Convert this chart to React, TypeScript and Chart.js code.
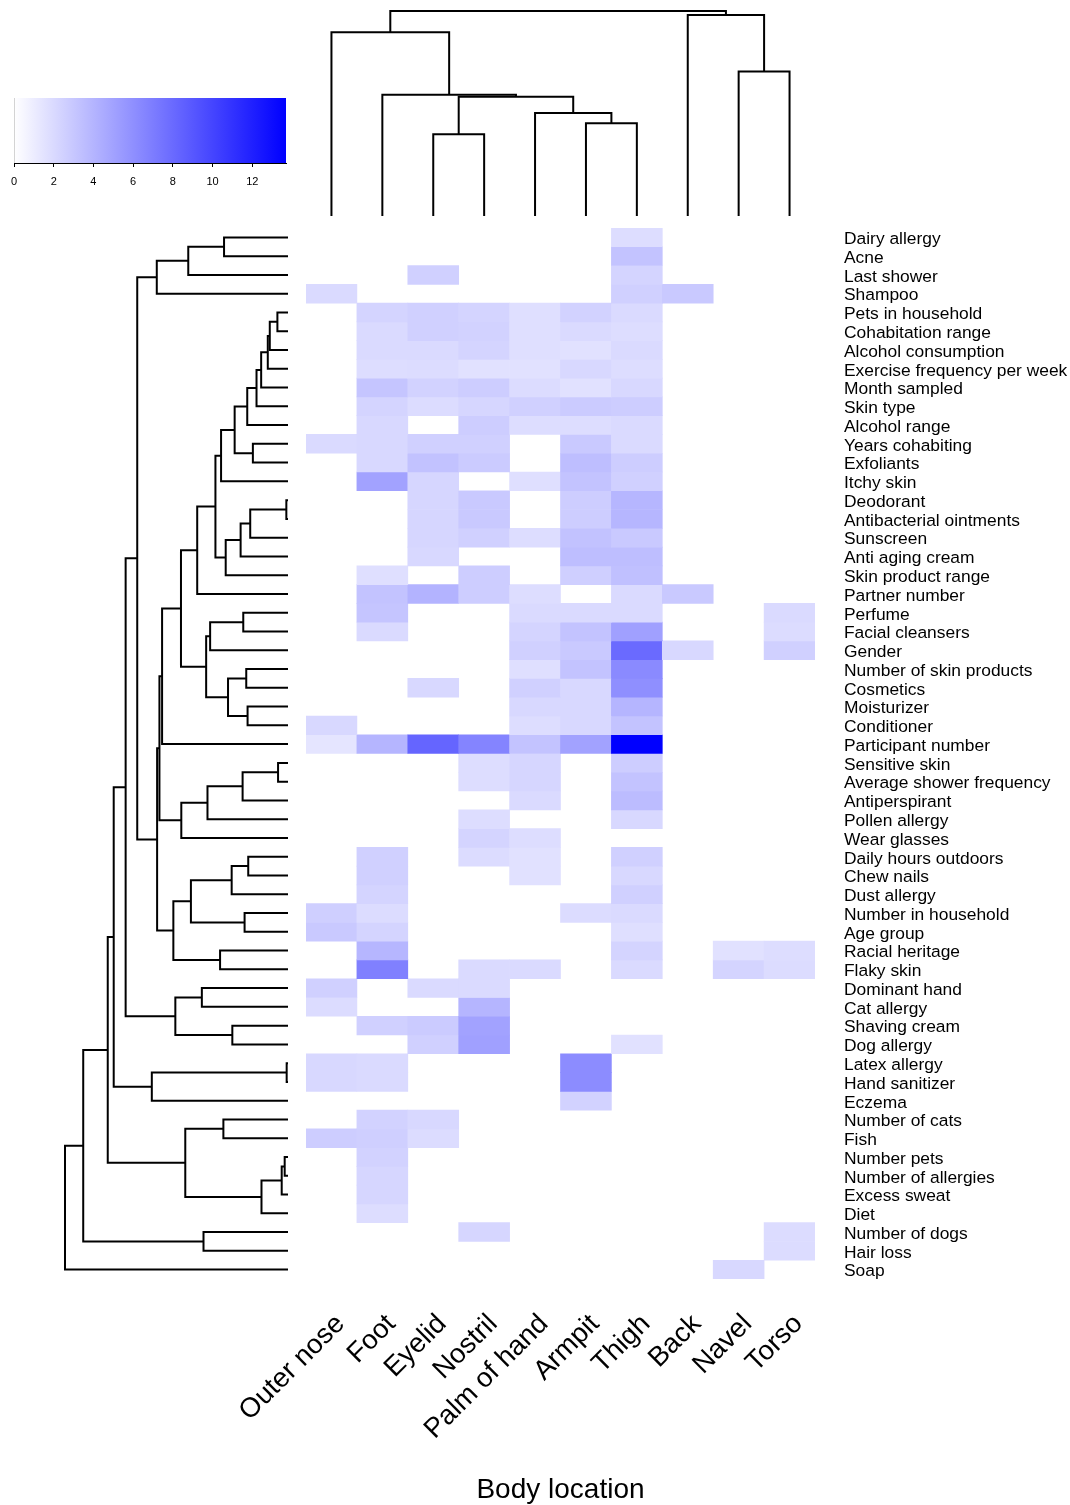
import React, { useEffect, useRef } from "react";
import { Chart, registerables } from "chart.js";

Chart.register(...registerables);
Chart.defaults.font.family = "'Liberation Sans', Arial, Helvetica, sans-serif";
Chart.defaults.color = "#000";

// Columns of the heatmap (body sites sampled)
const BODY_LOCATIONS = [
  "Outer nose", "Foot", "Eyelid", "Nostril", "Palm of hand",
  "Armpit", "Thigh", "Back", "Navel", "Torso",
];

// Rows of the heatmap (participant metadata), top to bottom
const METADATA = [
  "Dairy allergy", "Acne", "Last shower", "Shampoo", "Pets in household",
  "Cohabitation range", "Alcohol consumption", "Exercise frequency per week",
  "Month sampled", "Skin type", "Alcohol range", "Years cohabiting", "Exfoliants",
  "Itchy skin", "Deodorant", "Antibacterial ointments", "Sunscreen",
  "Anti aging cream", "Skin product range", "Partner number", "Perfume",
  "Facial cleansers", "Gender", "Number of skin products", "Cosmetics",
  "Moisturizer", "Conditioner", "Participant number", "Sensitive skin",
  "Average shower frequency", "Antiperspirant", "Pollen allergy", "Wear glasses",
  "Daily hours outdoors", "Chew nails", "Dust allergy", "Number in household",
  "Age group", "Racial heritage", "Flaky skin", "Dominant hand", "Cat allergy",
  "Shaving cream", "Dog allergy", "Latex allergy", "Hand sanitizer", "Eczema",
  "Number of cats", "Fish", "Number pets", "Number of allergies", "Excess sweat",
  "Diet", "Number of dogs", "Hair loss", "Soap",
];

// Association scores, one row per metadata variable, columns in BODY_LOCATIONS order
const SCORES: number[][] = [
  [0, 0, 0, 0, 0, 0, 1.8, 0, 0, 0],
  [0, 0, 0, 0, 0, 0, 3.2, 0, 0, 0],
  [0, 0, 2.5, 0, 0, 0, 2.3, 0, 0, 0],
  [2.0, 0, 0, 0, 0, 0, 2.5, 2.9, 0, 0],
  [0, 2.3, 2.5, 2.3, 1.7, 2.4, 2.0, 0, 0, 0],
  [0, 2.0, 2.5, 2.4, 1.7, 2.0, 1.8, 0, 0, 0],
  [0, 2.0, 2.0, 2.3, 1.7, 1.6, 2.0, 0, 0, 0],
  [0, 1.8, 1.9, 1.6, 1.6, 2.1, 1.8, 0, 0, 0],
  [0, 3.1, 2.4, 2.7, 1.9, 1.6, 2.1, 0, 0, 0],
  [0, 2.3, 1.9, 2.2, 2.5, 2.8, 2.7, 0, 0, 0],
  [0, 2.1, 0, 2.7, 1.8, 1.8, 2.0, 0, 0, 0],
  [2.0, 2.1, 2.5, 2.5, 0, 2.9, 2.0, 0, 0, 0],
  [0, 2.1, 3.3, 2.8, 0, 3.5, 2.7, 0, 0, 0],
  [0, 5.0, 2.2, 0, 1.7, 3.2, 2.5, 0, 0, 0],
  [0, 0, 2.2, 2.9, 0, 2.7, 3.9, 0, 0, 0],
  [0, 0, 2.2, 2.9, 0, 2.7, 3.9, 0, 0, 0],
  [0, 0, 2.2, 2.5, 1.8, 3.3, 2.9, 0, 0, 0],
  [0, 0, 2.1, 0, 0, 3.5, 3.5, 0, 0, 0],
  [0, 1.7, 0, 2.7, 0, 2.6, 3.4, 0, 0, 0],
  [0, 3.2, 4.1, 2.7, 1.8, 0, 2.0, 2.9, 0, 0],
  [0, 3.1, 0, 0, 2.0, 2.0, 2.0, 0, 0, 2.0],
  [0, 2.0, 0, 0, 2.3, 3.2, 5.1, 0, 0, 1.9],
  [0, 0, 0, 0, 2.5, 2.9, 8.0, 2.1, 0, 2.5],
  [0, 0, 0, 0, 1.7, 3.2, 6.3, 0, 0, 0],
  [0, 0, 2.1, 0, 2.5, 2.1, 6.0, 0, 0, 0],
  [0, 0, 0, 0, 2.1, 2.1, 4.0, 0, 0, 0],
  [2.1, 0, 0, 0, 1.8, 2.1, 3.2, 0, 0, 0],
  [1.4, 4.0, 8.3, 6.6, 3.2, 5.0, 13.7, 0, 0, 0],
  [0, 0, 0, 1.8, 2.2, 0, 2.7, 0, 0, 0],
  [0, 0, 0, 1.8, 2.2, 0, 3.2, 0, 0, 0],
  [0, 0, 0, 0, 2.0, 0, 3.6, 0, 0, 0],
  [0, 0, 0, 1.8, 0, 0, 2.1, 0, 0, 0],
  [0, 0, 0, 2.3, 1.8, 0, 0, 0, 0, 0],
  [0, 2.5, 0, 1.9, 1.6, 0, 2.5, 0, 0, 0],
  [0, 2.5, 0, 0, 1.6, 0, 2.1, 0, 0, 0],
  [0, 2.3, 0, 0, 0, 0, 2.5, 0, 0, 0],
  [2.6, 1.9, 0, 0, 0, 1.9, 2.0, 0, 0, 0],
  [2.9, 2.3, 0, 0, 0, 0, 1.7, 0, 0, 0],
  [0, 3.9, 0, 0, 0, 0, 2.3, 0, 1.6, 1.8],
  [0, 6.8, 0, 2.0, 2.0, 0, 2.0, 0, 2.3, 1.9],
  [2.5, 0, 2.0, 2.0, 0, 0, 0, 0, 0, 0],
  [1.9, 0, 0, 4.0, 0, 0, 0, 0, 0, 0],
  [0, 2.5, 2.8, 5.0, 0, 0, 0, 0, 0, 0],
  [0, 0, 2.5, 5.1, 0, 0, 1.6, 0, 0, 0],
  [2.1, 2.0, 0, 0, 0, 6.2, 0, 0, 0, 0],
  [2.1, 2.0, 0, 0, 0, 6.2, 0, 0, 0, 0],
  [0, 0, 0, 0, 0, 2.4, 0, 0, 0, 0],
  [0, 2.4, 2.1, 0, 0, 0, 0, 0, 0, 0],
  [2.7, 2.6, 1.9, 0, 0, 0, 0, 0, 0, 0],
  [0, 2.4, 0, 0, 0, 0, 0, 0, 0, 0],
  [0, 2.2, 0, 0, 0, 0, 0, 0, 0, 0],
  [0, 2.2, 0, 0, 0, 0, 0, 0, 0, 0],
  [0, 1.8, 0, 0, 0, 0, 0, 0, 0, 0],
  [0, 0, 0, 2.2, 0, 0, 0, 0, 0, 1.9],
  [0, 0, 0, 0, 0, 0, 0, 0, 0, 1.9],
  [0, 0, 0, 0, 0, 0, 0, 0, 2.1, 0],
];

const SCORE_MAX = 13.7;
const COLORBAR_TICKS = [0, 2, 4, 6, 8, 10, 12];

// Cluster merges in hclust form: [a, b, height]; a negative entry is a leaf
// (1-based row/column), a positive entry refers to an earlier merge (1-based).
type Merge = [number, number, number];

const ROW_MERGES: Merge[] = [
  [-1, -2, 1.93], [1, -3, 3.01], [2, -4, 3.96], [-5, -6, 0.32], [4, -7, 0.55],
  [5, -8, 0.61], [6, -9, 0.81], [7, -10, 0.95], [8, -11, 1.23], [-12, -13, 1.06],
  [9, 10, 1.61], [11, -14, 2.02], [-15, -16, 0.05], [13, -17, 1.14], [14, -18, 1.43],
  [15, -19, 1.88], [12, 16, 2.19], [17, -20, 2.74], [-21, -22, 1.35], [19, -23, 2.35],
  [-24, -25, 1.26], [-26, -27, 1.22], [21, 22, 1.81], [20, 23, 2.47], [18, 24, 3.23],
  [25, -28, 3.8], [-29, -30, 0.3], [27, -31, 1.37], [28, -32, 2.43], [29, -33, 3.22],
  [26, 30, 3.88], [-34, -35, 1.2], [32, -36, 1.7], [-37, -38, 1.31], [33, 34, 2.93],
  [-39, -40, 2.05], [35, 36, 3.46], [31, 37, 3.95], [3, 38, 4.55], [-41, -42, 2.6],
  [-43, -44, 1.68], [40, 41, 3.4], [39, 42, 4.9], [-45, -46, 0.04], [44, -47, 4.11],
  [43, 45, 5.26], [-48, -49, 1.95], [-50, -51, 0.1], [48, -52, 0.19], [49, -53, 0.8],
  [47, 50, 3.1], [46, 51, 5.44], [-54, -55, 2.55], [52, 53, 6.18], [54, -56, 6.73],
];
const ROW_TREE_TOP = 6.73;

const COL_MERGES: Merge[] = [
  [-3, -4, 2.46], [-6, -7, 2.79], [-5, 2, 3.1], [1, 3, 3.59], [-2, 4, 3.65],
  [-9, -10, 4.35], [-1, 5, 5.53], [-8, 6, 6.05], [7, 8, 6.17],
];
const COL_TREE_TOP = 6.17;

function scoreColor(v: number): string {
  const c = Math.round(255 * (1 - Math.min(v, SCORE_MAX) / SCORE_MAX));
  return `rgb(${c},${c},255)`;
}

// Turn a merge table into the bracket polylines of a dendrogram.
// p = position along the leaf axis (leaf k centred at k - 0.5), h = merge height.
function dendrogramSegments(merges: Merge[]) {
  const pos: number[] = [];
  const hgt: number[] = [];
  const node = (k: number) => (k < 0 ? { p: -k - 0.5, h: 0 } : { p: pos[k - 1], h: hgt[k - 1] });
  return merges.map(([a, b, h], i) => {
    const A = node(a);
    const B = node(b);
    pos[i] = (A.p + B.p) / 2;
    hgt[i] = h;
    return [A, { p: A.p, h }, { p: B.p, h }, B];
  });
}

const W = 1070;
const H = 1505;
const HEAT = { left: 306, right: 815, top: 228, bottom: 1279 };

const noPlugins = { legend: { display: false }, tooltip: { enabled: false } };

function lineStyle() {
  return {
    showLine: true,
    borderColor: "#000",
    borderWidth: 2,
    pointRadius: 0,
    tension: 0,
    clip: false as const,
  };
}

export default function App() {
  const heatRef = useRef<HTMLCanvasElement>(null);
  const rowTreeRef = useRef<HTMLCanvasElement>(null);
  const colTreeRef = useRef<HTMLCanvasElement>(null);
  const keyRef = useRef<HTMLCanvasElement>(null);

  useEffect(() => {
    const charts: Chart[] = [];

    // Heatmap with row labels on the right and rotated column labels below
    const heatDatasets = SCORES.map((row, i) => {
      const cells = row
        .map((v, j) => ({ v, j }))
        .filter((c) => c.v > 0);
      return {
        type: "bar" as const,
        label: METADATA[i],
        data: cells.map((c) => ({ x: c.j + 0.5, y: [i, i + 1] })),
        backgroundColor: cells.map((c) => scoreColor(c.v)),
        borderWidth: 0,
        grouped: false,
        barPercentage: 1,
        categoryPercentage: 1,
      };
    });

    charts.push(
      new Chart(heatRef.current!, {
        type: "bar",
        data: { datasets: heatDatasets as any },
        options: {
          responsive: false,
          animation: false,
          layout: { padding: { left: HEAT.left, top: HEAT.top, right: 0, bottom: 0 } },
          plugins: noPlugins,
          scales: {
            x: {
              type: "linear",
              position: "bottom",
              min: 0,
              max: BODY_LOCATIONS.length,
              offset: false,
              grid: { display: false, drawTicks: false, tickLength: 0 },
              border: { display: false },
              afterBuildTicks: (s: any) => {
                s.ticks = BODY_LOCATIONS.map((_, j) => ({ value: j + 0.5 }));
              },
              ticks: {
                autoSkip: false,
                minRotation: 45,
                maxRotation: 45,
                padding: 29,
                labelOffset: 9,
                font: { size: 27.5 },
                color: "#000",
                callback: (_v: any, idx: number) => BODY_LOCATIONS[idx],
              },
              title: {
                display: true,
                text: "Body location",
                font: { size: 28 },
                color: "#000",
                padding: { top: 0, bottom: -2 },
              },
              afterFit: (s: any) => {
                s.height = H - HEAT.bottom;
              },
            },
            y: {
              type: "linear",
              position: "right",
              min: 0,
              max: METADATA.length,
              reverse: true,
              grid: { display: false, drawTicks: false, tickLength: 0 },
              border: { display: false },
              afterBuildTicks: (s: any) => {
                s.ticks = METADATA.map((_, i) => ({ value: i + 0.5 }));
              },
              ticks: {
                autoSkip: false,
                padding: 29,
                labelOffset: 2,
                font: { size: 17.4 },
                color: "#000",
                callback: (_v: any, idx: number) => METADATA[idx],
              },
              afterFit: (s: any) => {
                s.width = W - HEAT.right;
              },
            },
          },
        } as any,
      })
    );

    // Row dendrogram, root on the left
    const rowSegs = dendrogramSegments(ROW_MERGES);
    charts.push(
      new Chart(rowTreeRef.current!, {
        type: "scatter",
        data: {
          datasets: rowSegs.map((seg) => ({
            data: seg.map((q) => ({ x: q.h, y: q.p })),
            ...lineStyle(),
          })),
        },
        options: {
          responsive: false,
          animation: false,
          layout: { padding: { left: 65, right: 18, top: 0, bottom: 0 } },
          plugins: noPlugins,
          scales: {
            x: { type: "linear", min: 0, max: ROW_TREE_TOP, reverse: true, display: false },
            y: { type: "linear", min: 0, max: METADATA.length, reverse: true, display: false },
          },
        } as any,
      })
    );

    // Column dendrogram, root at the top
    const colSegs = dendrogramSegments(COL_MERGES);
    charts.push(
      new Chart(colTreeRef.current!, {
        type: "scatter",
        data: {
          datasets: colSegs.map((seg) => ({
            data: seg.map((q) => ({ x: q.p, y: q.h })),
            ...lineStyle(),
          })),
        },
        options: {
          responsive: false,
          animation: false,
          layout: { padding: { left: 0, right: 0, top: 11, bottom: 12 } },
          plugins: noPlugins,
          scales: {
            x: { type: "linear", min: 0, max: BODY_LOCATIONS.length, display: false },
            y: { type: "linear", min: 0, max: COL_TREE_TOP, display: false },
          },
        } as any,
      })
    );

    // Colour key: a single bar filled with the white-to-blue ramp
    const keyFill = (ctx: any) => {
      const chart = ctx.chart;
      const xs = chart.scales && chart.scales.x;
      const x0 = xs ? xs.getPixelForValue(0) : NaN;
      const x1 = xs ? xs.getPixelForValue(SCORE_MAX) : NaN;
      if (!Number.isFinite(x0) || !Number.isFinite(x1) || x0 === x1) {
        return scoreColor(SCORE_MAX / 2);
      }
      const g = chart.ctx.createLinearGradient(x0, 0, x1, 0);
      g.addColorStop(0, scoreColor(0));
      g.addColorStop(1, scoreColor(SCORE_MAX));
      return g;
    };

    charts.push(
      new Chart(keyRef.current!, {
        type: "bar",
        data: {
          labels: [""],
          datasets: [
            {
              data: [[0, SCORE_MAX]],
              backgroundColor: keyFill,
              borderWidth: 0,
              barPercentage: 1,
              categoryPercentage: 1,
            },
          ],
        },
        options: {
          indexAxis: "y",
          responsive: false,
          animation: false,
          layout: { padding: { left: 14, right: 24, top: 18, bottom: 0 } },
          plugins: noPlugins,
          scales: {
            y: {
              grid: { display: false, drawTicks: false },
              ticks: { display: false },
              border: { display: true, color: "#000", width: 1 },
              afterFit: (s: any) => {
                s.width = 0;
              },
            },
            x: {
              type: "linear",
              min: 0,
              max: SCORE_MAX,
              afterBuildTicks: (s: any) => {
                s.ticks = COLORBAR_TICKS.map((v) => ({ value: v }));
              },
              grid: {
                display: true,
                drawOnChartArea: false,
                drawTicks: true,
                tickLength: 4,
                color: "#000",
              },
              border: { display: true, color: "#000", width: 1 },
              ticks: { font: { size: 11 }, padding: 8, color: "#000" },
              afterFit: (s: any) => {
                s.height = 47;
              },
            },
          },
        } as any,
      })
    );

    return () => charts.forEach((c) => c.destroy());
  }, []);

  const abs = (left: number, top: number): React.CSSProperties => ({
    position: "absolute",
    left,
    top,
    display: "block",
  });

  return (
    <div style={{ position: "absolute", left: 0, top: 0, width: W, height: H, background: "#fff" }}>
      <canvas ref={heatRef} width={W} height={H} style={abs(0, 0)} />
      <canvas ref={rowTreeRef} width={HEAT.left} height={HEAT.bottom - HEAT.top} style={abs(0, HEAT.top)} />
      <canvas ref={colTreeRef} width={HEAT.right - HEAT.left} height={HEAT.top} style={abs(HEAT.left, 0)} />
      <canvas ref={keyRef} width={310} height={130} style={abs(0, 80)} />
    </div>
  );
}
